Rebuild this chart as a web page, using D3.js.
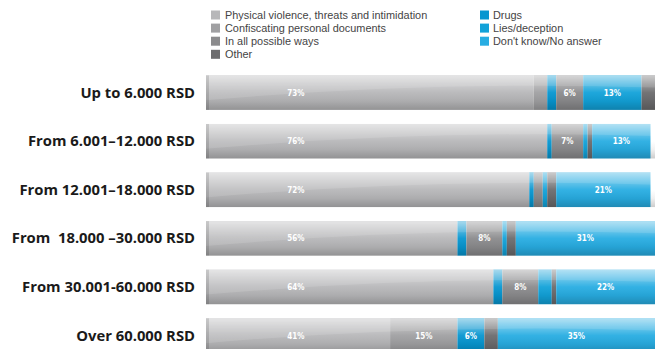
<!DOCTYPE html>
<html><head><meta charset="utf-8">
<script src="https://cdnjs.cloudflare.com/ajax/libs/d3/7.8.5/d3.min.js"></script>
<style>body{margin:0;background:#fff}svg{display:block}</style>
</head><body><svg id="c" width="656" height="349"></svg>
<script>
const categories = ["Up to 6.000 RSD","From 6.001–12.000 RSD","From 12.001–18.000 RSD","From  18.000 –30.000 RSD","From 30.001-60.000 RSD","Over 60.000 RSD"];
const seriesNames = ["Physical violence, threats and intimidation","Confiscating personal documents","Drugs","In all possible ways","Lies/deception","Other","Don't know/No answer"];
const physical    = [73, 76, 72, 56, 64, 41];
const confiscating= [3, 0, 0, 0, 0, 15];
const drugs       = [2, 1, 1, 2, 2, 6];
const allWays     = [6, 7, 2, 8, 8, 0];
const lies        = [13, 1, 1, 1, 3, 0];
const other       = [3, 1, 2, 2, 1, 3];
const dontKnow    = [0, 13, 21, 31, 22, 35];
const legendLeft  = ["Physical violence, threats and intimidation","Confiscating personal documents","In all possible ways","Other"];
const legendRight = ["Drugs","Lies/deception","Don't know/No answer"];

const colors = {
  "Physical violence, threats and intimidation":"#b7b7b9",
  "Confiscating personal documents":"#a0a0a2",
  "In all possible ways":"#8b8b8d",
  "Other":"#6c6c6e",
  "Drugs":"#0796d0",
  "Lies/deception":"#12a2d9",
  "Don't know/No answer":"#28ade2"
};
const values = [physical, confiscating, drugs, allWays, lies, other, dontKnow];
const rows = categories.map((c,i)=>{const r={cat:c}; seriesNames.forEach((s,k)=>r[s]=values[k][i]); return r;});
const stacked = d3.stack().keys(seriesNames)(rows);

const svg = d3.select("#c");
const x = d3.scaleLinear().domain([0,100]).range([206,655]);
const y = d3.scaleBand().domain(categories).range([68.6,359.6]).paddingInner(0.29).paddingOuter(0.14);

const defs = svg.append("defs");
const g1 = defs.append("linearGradient").attr("id","gloss").attr("x1",0).attr("y1",0).attr("x2",0).attr("y2",1);
[[0,"#fff",0.6],[0.25,"#fff",0.32],[0.5,"#fff",0.05],[0.75,"#000",0.06],[1,"#000",0.2]].forEach(s=>
  g1.append("stop").attr("offset",s[0]).attr("stop-color",s[1]).attr("stop-opacity",s[2]));

// bars
const layer = svg.append("g").selectAll("g").data(stacked).join("g").attr("fill",d=>colors[d.key]);
layer.selectAll("rect").data(d=>d).join("rect")
  .attr("x",d=>x(d[0])).attr("width",d=>Math.max(0,x(d[1])-x(d[0])))
  .attr("y",d=>y(d.data.cat)).attr("height",y.bandwidth());

// gloss overlay
const ov = svg.append("g");
categories.forEach((c,i)=>{
  ov.append("rect").attr("x",x(0)).attr("width",x(100)-x(0)).attr("y",y(c)).attr("height",y.bandwidth()).attr("fill","url(#gloss)");
  const y0=y(c), h=y.bandwidth(), x0=x(0), x1=x(100);
  ov.append("path").attr("d",`M${x0},${y0} L${x1},${y0} L${x1},${y0+h*0.35} Q${(x0+x1)/2},${y0+h*0.15} ${x0},${y0+h*0.72} Z`)
    .attr("fill","#fff").attr("opacity",0.12);
  ov.append("rect").attr("x",x0).attr("width",3).attr("y",y0).attr("height",h).attr("fill","#000").attr("opacity",0.12);
});

// value labels
const lab = svg.append("g").attr("font-family","'DejaVu Sans Condensed','DejaVu Sans',sans-serif").attr("font-weight","bold").attr("font-size",8).attr("fill","#fff").attr("text-anchor","middle");
stacked.forEach((s,k)=>{
  s.forEach(d=>{
    const v=d[1]-d[0];
    if(v>=6){
      let cx=(x(d[0])+x(d[1]))/2;
      if(k===0) cx=Math.min(cx,x(20));
      lab.append("text").attr("x",cx).attr("y",y(d.data.cat)+y.bandwidth()/2+3).text(v+"%");
    }
  });
});

// category labels
svg.append("g").selectAll("text").data(categories).join("text")
  .attr("x",195).attr("y",d=>y(d)+y.bandwidth()/2+5).attr("text-anchor","end")
  .attr("font-family","'Open Sans',sans-serif").attr("font-weight","bold").attr("font-size",14.8).attr("fill","#1a1a1a")
  .attr("xml:space","preserve").style("white-space","pre").text(d=>d);

// legend
const lg = svg.append("g").attr("font-family","'Liberation Sans',Arial,sans-serif").attr("font-size",10.9).attr("fill","#444");
legendLeft.forEach((n,i)=>{
  lg.append("rect").attr("x",211).attr("y",10.5+i*13.1).attr("width",9).attr("height",9).attr("fill",colors[n]);
  lg.append("text").attr("x",225).attr("y",18.8+i*13.1).text(n);
});
legendRight.forEach((n,i)=>{
  lg.append("rect").attr("x",480).attr("y",10.5+i*13.1).attr("width",9).attr("height",9).attr("fill",colors[n]);
  lg.append("text").attr("x",493).attr("y",18.8+i*13.1).text(n);
});
</script></body></html>
